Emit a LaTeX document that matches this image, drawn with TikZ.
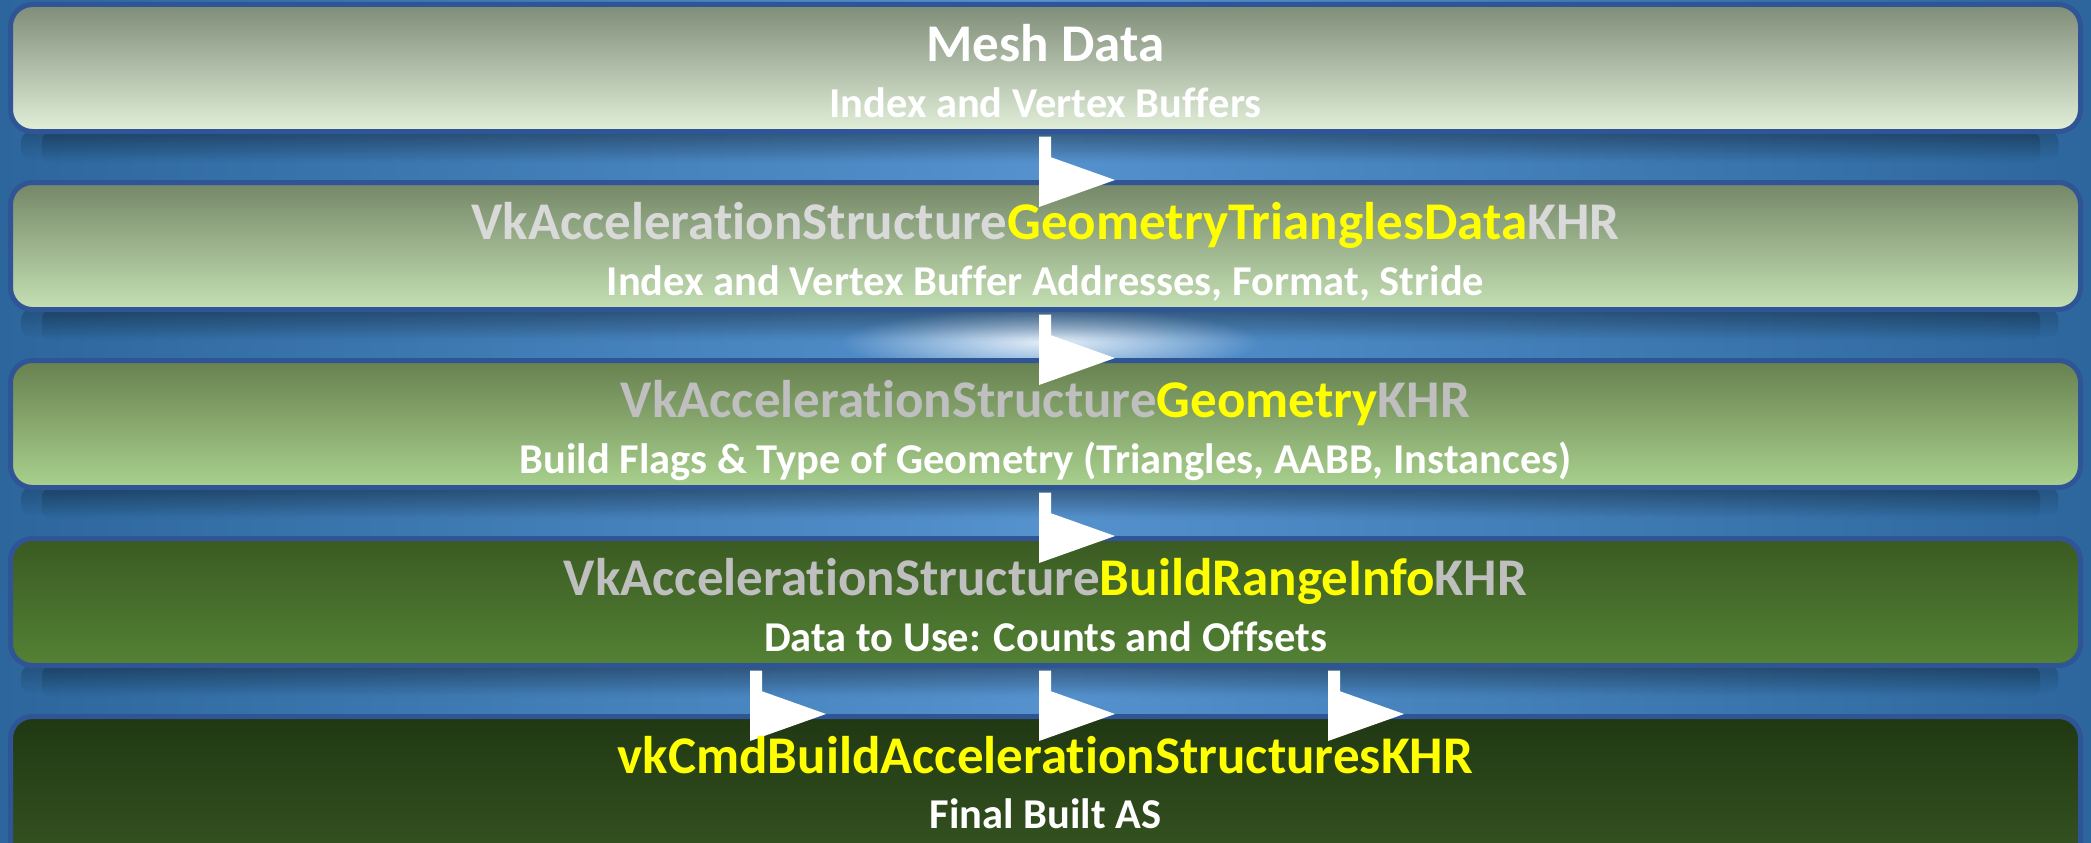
\documentclass[tikz,border=0pt]{standalone}
\usepackage{fontspec}
\setmainfont{Carlito}[Ligatures={NoCommon}]
\usetikzlibrary{calc,fadings,shadings}
\definecolor{bgedge}{HTML}{2C669C}
\definecolor{bgmid}{HTML}{5592CE}
\definecolor{bordc}{HTML}{2F5597}
\definecolor{grayA}{HTML}{D9D9D9}
\definecolor{grayB}{HTML}{BFBFBF}
\definecolor{yel}{HTML}{FFFF00}
\definecolor{bat}{HTML}{7F8C78}\definecolor{bab}{HTML}{E2EFD9}
\definecolor{bbt}{HTML}{748767}\definecolor{bbb}{HTML}{C5E0B4}
\definecolor{bct}{HTML}{67804F}\definecolor{bcb}{HTML}{A9D18E}
\definecolor{bdt}{HTML}{3A5A22}\definecolor{bdb}{HTML}{548235}
\definecolor{bet}{HTML}{203813}\definecolor{beb}{HTML}{385723}
\tikzfading[name=shadowfade, top color=transparent!0, bottom color=transparent!100]
\tikzfading[name=glowfade, inner color=transparent!0, outer color=transparent!100]
\newcommand\flowarrow[3]{%
  \coordinate (s) at ($(#2.south)+(#1,2.5)$);
  \coordinate (t) at ($(#3.north)+(#1+76,0)$);
  \fill[arrowwhite] (s) -- ++(12,0) -- ($(t)+(-64,-22.74)$) -- (t) -- ($(t)+(-76,27)$) -- cycle;}
\begin{document}
\begin{tikzpicture}[x=1pt,y=-1pt,
  layer/.style={draw=bordc, line width=5pt, rounded corners=22pt, inner sep=0pt,
    minimum width=2070pt, minimum height=127pt},
  title/.style={anchor=base, inner sep=0pt, font=\fontsize{53}{55}\selectfont\bfseries},
  subtitle/.style={anchor=base, inner sep=0pt, text=white, font=\fontsize{42.5}{45}\selectfont\bfseries},
  arrowwhite/.style={fill=white},
  shadowstrip/.style={fill=black, opacity=0.2, path fading=shadowfade, rounded corners=10pt}]
\useasboundingbox (0,0) rectangle (2091,843);
\clip (0,0) rectangle (2091,843);
% background
\shade[left color=bgedge, right color=bgedge, middle color=bgmid] (0,0) rectangle (2091,843);
\fill[white, opacity=0.85, path fading=glowfade] (1050,342) ellipse (210pt and 34pt);
% shadows
\foreach \y in {131.5,309.5,487.5,665.5}{
  \fill[shadowstrip] (24,\y) rectangle (2067,\y+28);
  \fill[shadowstrip] (44,\y) rectangle (2047,\y+32);
}
% layers
\node[layer, top color=bat, bottom color=bab] (b1) at (1045.5,68) {};
\node[layer, top color=bbt, bottom color=bbb] (b2) at (1045.5,246) {};
\node[layer, top color=bct, bottom color=bcb] (b3) at (1045.5,424) {};
\node[layer, top color=bdt, bottom color=bdb] (b4) at (1045.5,602) {};
\node[layer, top color=bet, bottom color=beb, minimum height=163.5pt] (b5) at (1045.5,798.25) {};
% arrows
\flowarrow{-6.5}{b1}{b2}
\flowarrow{-6.5}{b2}{b3}
\flowarrow{-6.5}{b3}{b4}
\flowarrow{-295.5}{b4}{b5}
\flowarrow{-6.5}{b4}{b5}
\flowarrow{282.5}{b4}{b5}
% texts
\node[title, text=white] (t1) at ($(b1.north)+(0,60)$) {Mesh Data};
\node[subtitle] (s1) at ($(b1.north)+(0,115)$) {Index and Vertex Buffers};
\node[title] (t2) at ($(b2.north)+(0,59)$) {\textcolor{grayA}{VkAccelerationStructure}\textcolor{yel}{GeometryTrianglesData}\textcolor{grayA}{KHR}};
\node[subtitle] (s2) at ($(b2.north)+(0,115)$) {Index and Vertex Buffer Addresses, Format, Stride};
\node[title] (t3) at ($(b3.north)+(0,59)$) {\textcolor{grayB}{VkAccelerationStructure}\textcolor{yel}{Geometry}\textcolor{grayB}{KHR}};
\node[subtitle] (s3) at ($(b3.north)+(0,115)$) {Build Flags \& Type of Geometry (Triangles, AABB, Instances)};
\node[title] (t4) at ($(b4.north)+(0,59)$) {\textcolor{grayB}{VkAccelerationStructure}\textcolor{yel}{BuildRangeInfo}\textcolor{grayB}{KHR}};
\node[subtitle] (s4) at ($(b4.north)+(0,115)$) {Data to Use: Counts and Offsets};
\node[title, text=yel] (t5) at ($(b5.north)+(0,59)$) {vkCmdBuildAccelerationStructuresKHR};
\node[subtitle] (s5) at ($(b5.north)+(0,114)$) {Final Built AS};
\end{tikzpicture}
\end{document}
